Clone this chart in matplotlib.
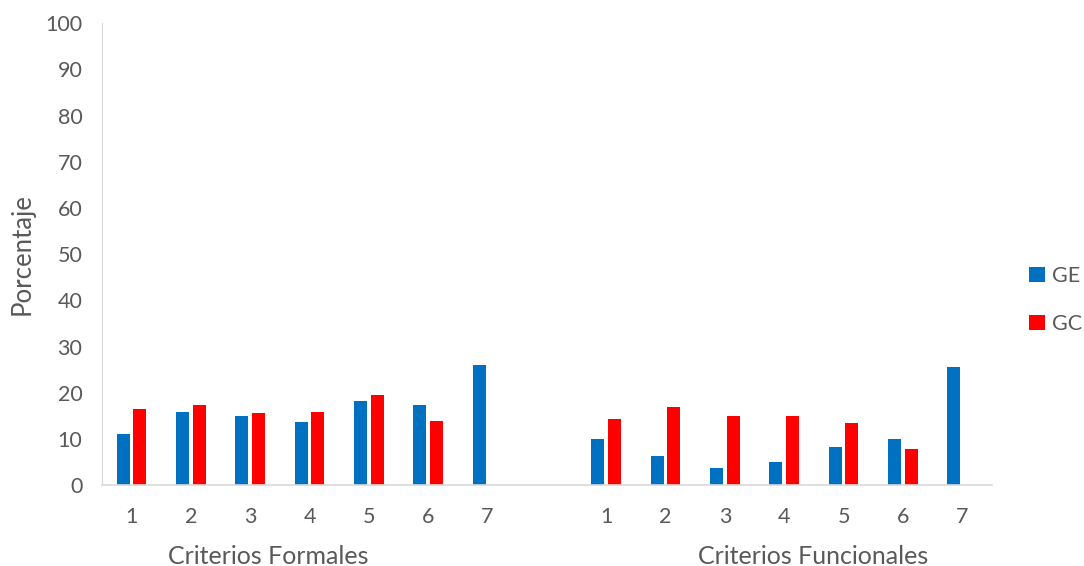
import numpy as np
import matplotlib.pyplot as plt

# ---- data ----
criterios = ['1', '2', '3', '4', '5', '6', '7']
ge_formales = [11.1, 15.9, 14.9, 13.6, 18.3, 17.4, 26.1]
gc_formales = [16.4, 17.4, 15.5, 15.9, 19.5, 13.9, 0]
ge_funcionales = [9.9, 6.4, 3.7, 4.9, 8.2, 9.9, 25.5]
gc_funcionales = [14.4, 17.0, 14.9, 14.9, 13.4, 7.9, 0]
grupos = ['Criterios Formales', 'Criterios Funcionales']
series = ['GE', 'GC']

GREY = '#595959'
plt.rcParams['font.family'] = ['Lato', 'DejaVu Sans']

fig = plt.figure(figsize=(10.84, 5.66), dpi=100)
ax = fig.add_axes([0.094, 0.143, 0.821, 0.816])

# two blocks of 7 categories with an empty slot between them
x_form = np.arange(7)
x_func = np.arange(7) + 8
w = 0.22
off = 0.14

ax.bar(x_form - off, ge_formales, w, color='#0070C0', label=series[0])
ax.bar(x_form + off, gc_formales, w, color='#FF0000', label=series[1])
ax.bar(x_func - off, ge_funcionales, w, color='#0070C0')
ax.bar(x_func + off, gc_funcionales, w, color='#FF0000')

ax.set_xlim(-0.5, 14.5)
ax.set_ylim(0, 100)
ax.set_yticks(np.arange(0, 101, 10))
ax.set_xticks(np.concatenate([x_form, x_func]))
ax.set_xticklabels(criterios + criterios)
ax.tick_params(length=0, labelsize=15.5, labelcolor=GREY)
ax.tick_params(axis='y', pad=14)
ax.tick_params(axis='x', pad=16)

for side in ['top', 'right']:
    ax.spines[side].set_visible(False)
ax.spines['left'].set_color('#D9D9D9')
ax.spines['bottom'].set_color('#D9D9D9')
ax.spines['bottom'].set_linewidth(1.2)

ax.set_ylabel('Porcentaje', fontsize=18.5, color=GREY, labelpad=8)

# group labels under the category numbers
trans = ax.get_xaxis_transform()
ax.text(2.3, -0.155, grupos[0], transform=trans, ha='center', va='center',
        fontsize=18, color=GREY)
ax.text(11.49, -0.155, grupos[1], transform=trans, ha='center', va='center',
        fontsize=18, color=GREY)

leg = fig.legend(loc='center left', bbox_to_anchor=(0.949, 0.47), frameon=False,
                 fontsize=15.5, handlelength=0.75, handleheight=0.75,
                 labelspacing=1.3, handletextpad=0.35, borderpad=0,
                 borderaxespad=0, labelcolor=GREY)

fig.savefig('out.png', dpi=100)
